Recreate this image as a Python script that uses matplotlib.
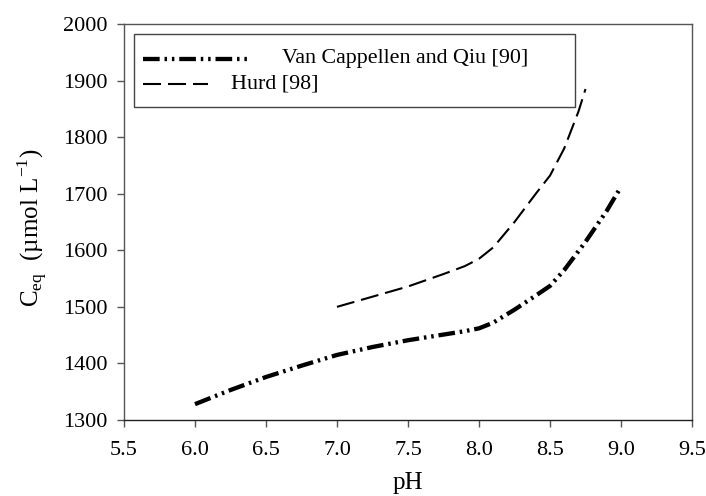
import matplotlib
matplotlib.use("Agg")
import matplotlib.pyplot as plt
from matplotlib.patches import Rectangle
from matplotlib.lines import Line2D

plt.rcParams['font.family'] = ['Liberation Serif', 'DejaVu Serif']
plt.rcParams['lines.scale_dashes'] = False
plt.rcParams['mathtext.fontset'] = 'custom'
plt.rcParams['mathtext.rm'] = 'Liberation Serif'

# Data
ph_vc = [6.0, 6.25, 6.5, 6.75, 7.0, 7.25, 7.5, 7.75, 7.9, 8.0, 8.1, 8.25, 8.4, 8.5, 8.6, 8.75, 8.9, 9.0]
c_vc = [1328, 1353, 1376, 1396, 1415, 1429, 1441, 1451, 1457, 1462, 1472, 1495, 1520, 1537, 1565, 1615, 1670, 1712]
ph_hurd = [7.0, 7.25, 7.5, 7.75, 7.9, 8.0, 8.1, 8.25, 8.4, 8.5, 8.6, 8.7, 8.75]
c_hurd = [1500, 1518, 1536, 1558, 1572, 1585, 1605, 1650, 1700, 1732, 1780, 1845, 1885]

xticks = [5.5, 6.0, 6.5, 7.0, 7.5, 8.0, 8.5, 9.0, 9.5]
yticks = [1300, 1400, 1500, 1600, 1700, 1800, 1900, 2000]
labels = ["Van Cappellen and Qiu [90]", "Hurd [98]"]

vc_style = dict(color='black', lw=3.1, linestyle=(0, (12, 3.5, 1.8, 3.5, 1.8, 3.5)),
                dash_capstyle='butt', solid_capstyle='butt')
hurd_style = dict(color='black', lw=1.5, linestyle=(0, (13, 5)))

fig = plt.figure(figsize=(7.06, 4.96), dpi=100)
W, H = 706, 496
ax = fig.add_axes([124 / W, 1 - 420 / H, (692 - 124) / W, (420 - 24) / H])

ax.plot(ph_vc, c_vc, **vc_style)
ax.plot(ph_hurd, c_hurd, **hurd_style)

ax.set_xlim(5.5, 9.5)
ax.set_ylim(1300, 2000)
ax.set_xticks(xticks)
ax.set_xticklabels([f"{t:.1f}" for t in xticks])
ax.set_yticks(yticks)
ax.set_yticklabels([str(t) for t in yticks])
ax.tick_params(direction='out', length=5, width=1, labelsize=16, color='#555555')
ax.tick_params(axis='x', pad=10)
ax.tick_params(axis='y', pad=7)
for s in ['left', 'top', 'right']:
    ax.spines[s].set_color('#555555')
ax.spines['bottom'].set_color('#222222')
for s in ax.spines.values():
    s.set_linewidth(1.0)

ax.set_xlabel("pH", fontsize=18)
ax.set_ylabel(r"C$_{\mathregular{eq}}$  (µmol L$^{\mathregular{-1}}$)", fontsize=18)
ax.xaxis.set_label_coords(0.5, (420 - 472) / 396)
ax.yaxis.set_label_coords((50 - 124) / 568, (420 - 228) / 396)

# Manual legend in figure pixel coordinates
def px(x, y):
    return (x / W, 1 - y / H)

x0, y0 = px(134, 107)
x1, y1 = px(575, 34)
fig.patches.append(Rectangle((x0, y0), x1 - x0, y1 - y0, transform=fig.transFigure,
                             facecolor='white', edgecolor='#444444', lw=1.0, zorder=5))
for (xa, xb, yy), st in [((143, 247, 59), vc_style), ((143, 208, 84), hurd_style)]:
    (ax_, ay_), (bx_, by_) = px(xa, yy), px(xb, yy)
    fig.add_artist(Line2D([ax_, bx_], [ay_, by_], transform=fig.transFigure, zorder=6, **st))
fig.text(*px(282, 59), labels[0], fontsize=15.8, va='center', ha='left', zorder=6)
fig.text(*px(231, 84), labels[1], fontsize=15.8, va='center', ha='left', zorder=6)

fig.savefig("out.png", dpi=100)
